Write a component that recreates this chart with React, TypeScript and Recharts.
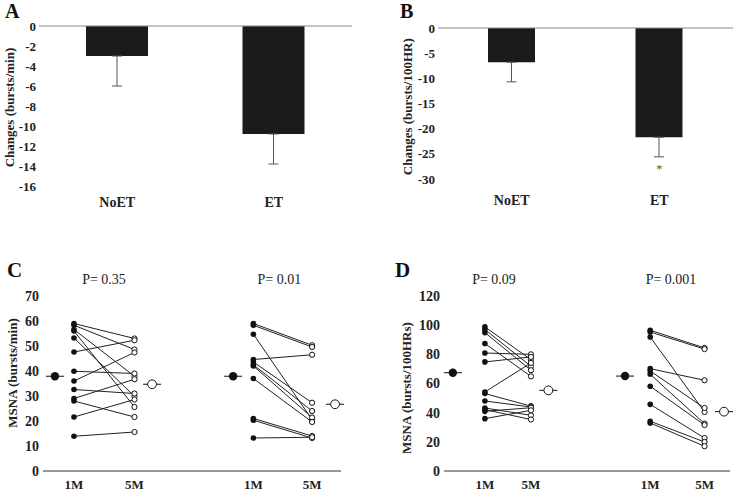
import React from 'react';
import {
  BarChart, Bar, XAxis, YAxis, ErrorBar, ReferenceLine, ReferenceDot,
  ScatterChart, Scatter,
} from 'recharts';

const serif = '"Liberation Serif", "Times New Roman", serif';

// A / B: change from 1 to 5 months
const groups = ['NoET', 'ET'];
const perMinChange = [-3.0, -10.8];
const perMinSE = [3.0, 3.0];
const perMinMarks = ['', ''];
const per100Change = [-6.8, -21.7];
const per100SE = [3.9, 3.9];
const per100Marks = ['', '*'];

// C / D: individual MSNA values, paired 1M -> 5M
const timepoints = ['1M', '5M'];
const minNoET1M = [59.0, 58.3, 56.6, 56.0, 53.2, 47.6, 39.9, 36.0, 32.6, 29.0, 28.0, 21.6, 13.9];
const minNoET5M = [53.0, 48.6, 37.9, 25.6, 29.9, 52.3, 39.0, 47.4, 31.0, 36.7, 21.6, 28.6, 15.6];
const minET1M = [59.0, 58.3, 54.7, 44.6, 43.6, 42.5, 42.0, 37.0, 21.0, 20.3, 13.2];
const minET5M = [50.3, 49.6, 20.5, 46.5, 27.3, 24.0, 21.4, 19.6, 14.0, 13.2, 13.5];
const minMean1M = [37.9, 37.9];
const minMean5M = [34.7, 26.7];
const minPValues = ['P= 0.35', 'P= 0.01'];

const hrNoET1M = [98.8, 97.0, 94.9, 87.4, 80.9, 74.8, 54.2, 53.1, 48.0, 43.2, 42.1, 40.9, 35.9];
const hrNoET5M = [76.4, 71.8, 69.1, 64.9, 80.0, 78.2, 74.1, 44.5, 43.9, 38.2, 35.3, 43.4, 41.6];
const hrET1M = [96.5, 95.3, 91.9, 70.2, 68.6, 66.3, 58.1, 45.7, 34.1, 32.9];
const hrET5M = [84.4, 83.6, 40.5, 62.2, 43.2, 32.5, 31.5, 22.6, 19.9, 17.0];
const hrMean1M = [67.4, 65.1];
const hrMean5M = [55.3, 40.7];
const hrPValues = ['P= 0.09', 'P= 0.001'];

const tickFont = { fontSize: 13, fontWeight: 700, fontFamily: serif, fill: '#222' };

function ChangePanel({ left, width, height, mTop, mBottom, axisW, mRight, barSize, values, errs, marks,
  domain, ticks, xMargin }: any) {
  const data = groups.map((g, i) => ({ group: g, value: values[i], err: [errs[i], 0] }));
  return (
    <div style={{ position: 'absolute', left, top: 0 }}>
      <BarChart width={width} height={height} data={data}
        margin={{ top: mTop, right: mRight, left: 0, bottom: mBottom }} barCategoryGap={0}>
        <XAxis dataKey="group" axisLine={false} tickLine={false} height={30} tickMargin={xMargin}
          tick={{ ...tickFont, fontSize: 14 }} />
        <YAxis type="number" domain={domain} ticks={ticks} interval={0} width={axisW} axisLine={false}
          tickLine={false} tickSize={0} tickMargin={3} tick={tickFont} />
        <ReferenceLine y={0} stroke="#888" strokeWidth={1.2} />
        <Bar dataKey="value" fill="#1b1b1b" barSize={barSize} isAnimationActive={false}>
          <ErrorBar dataKey="err" direction="y" width={5} stroke="#555" strokeWidth={1} />
        </Bar>
        {marks.map((m: string, i: number) => m ? (
          <ReferenceDot key={i} x={groups[i]} y={values[i] - errs[i] - 2.2} r={0} stroke="none" fill="none"
            label={{ value: m, position: 'center', fill: '#555', fontSize: 13, fontFamily: serif }} />
        ) : null)}
      </BarChart>
    </div>
  );
}

function subjectDot(props: any) {
  const { cx, cy, payload } = props;
  if (payload.t === 0) return <circle cx={cx} cy={cy} r={2.8} fill="#111" />;
  return <circle cx={cx} cy={cy} r={2.6} fill="#fff" stroke="#111" strokeWidth={1} />;
}

function meanDot(props: any) {
  const { cx, cy, payload } = props;
  return (
    <g>
      <line x1={cx - 9} x2={cx + 9} y1={cy} y2={cy} stroke="#111" strokeWidth={1} />
      {payload.t === 0
        ? <circle cx={cx} cy={cy} r={4.2} fill="#111" />
        : <circle cx={cx} cy={cy} r={4.4} fill="#fff" stroke="#111" strokeWidth={1} />}
    </g>
  );
}

function PairPanel({ left, width, axisW, mRight, yMax, step, slots, pre, post, mean1, mean5 }: any) {
  const yTicks: number[] = [];
  for (let v = 0; v <= yMax; v += step) yTicks.push(v);
  const xTicks = [slots[0][1], slots[0][2], slots[1][1], slots[1][2]];
  const pairs: any[] = [];
  pre.forEach((arr: number[], g: number) => {
    arr.forEach((v, i) => {
      pairs.push([{ x: slots[g][1], y: v, t: 0 }, { x: slots[g][2], y: post[g][i], t: 1 }]);
    });
  });
  const means = [0, 1].flatMap((g) => [
    { x: slots[g][0], y: mean1[g], t: 0 },
    { x: slots[g][3], y: mean5[g], t: 1 },
  ]);
  return (
    <div style={{ position: 'absolute', left, top: 250 }}>
      <ScatterChart width={width} height={242} margin={{ top: 46, right: mRight, left: 0, bottom: 0 }}>
        <XAxis type="number" dataKey="x" domain={[0, 100]} ticks={xTicks} interval={0} height={21}
          axisLine={{ stroke: '#333', strokeWidth: 1.2 }} tickLine={false} tickMargin={3}
          tick={tickFont} tickFormatter={(v: number) => timepoints[xTicks.indexOf(v) % 2]} />
        <YAxis type="number" dataKey="y" domain={[0, yMax]} ticks={yTicks} interval={0} width={axisW}
          axisLine={false} tickLine={false} tickSize={0} tickMargin={4} tick={{ ...tickFont, fontSize: 14 }} />
        {pairs.map((p, i) => (
          <Scatter key={i} data={p} line={{ stroke: '#222', strokeWidth: 1 }} shape={subjectDot}
            isAnimationActive={false} />
        ))}
        <Scatter data={means} shape={meanDot} isAnimationActive={false} />
      </ScatterChart>
    </div>
  );
}

const letter = { fontFamily: serif, fontWeight: 700, fill: '#111' };
const ptext = { fontFamily: serif, fontSize: 14, fill: '#222', textAnchor: 'middle' as const };

function VTitle({ x, y, children }: any) {
  return (
    <text x={x} y={y} transform={`rotate(-90, ${x}, ${y})`} textAnchor="middle" dominantBaseline="central"
      fontFamily={serif} fontWeight={700} fontSize={13} fill="#222">{children}</text>
  );
}

export default function App() {
  return (
    <div style={{ position: 'absolute', left: 0, top: 0, width: 735, height: 492, background: '#fff' }}>
      <ChangePanel left={0} width={370} height={230} mTop={26} mBottom={14} axisW={39} mRight={18} barSize={62}
        values={perMinChange} errs={perMinSE} marks={perMinMarks} domain={[-16, 0]}
        ticks={[0, -2, -4, -6, -8, -10, -12, -14, -16]} xMargin={5} />
      <ChangePanel left={370} width={365} height={230} mTop={28} mBottom={21} axisW={68} mRight={2} barSize={47}
        values={per100Change} errs={per100SE} marks={per100Marks} domain={[-30, 0]}
        ticks={[0, -5, -10, -15, -20, -25, -30]} xMargin={10} />
      <PairPanel left={0} width={370} axisW={43} mRight={29} yMax={70} step={10}
        slots={[[4.0, 10.4, 30.7, 36.6], [63.8, 70.6, 90.3, 98.0]]}
        pre={[minNoET1M, minET1M]} post={[minNoET5M, minET5M]} mean1={minMean1M} mean5={minMean5M} />
      <PairPanel left={370} width={365} axisW={74} mRight={5} yMax={120} step={20}
        slots={[[3.1, 14.3, 30.4, 36.5], [63.3, 72.1, 91.1, 97.9]]}
        pre={[hrNoET1M, hrET1M]} post={[hrNoET5M, hrET5M]} mean1={hrMean1M} mean5={hrMean5M} />
      <svg width={735} height={492} style={{ position: 'absolute', left: 0, top: 0, pointerEvents: 'none' }}>
        <text x={5} y={17.5} fontSize={20} {...letter}>A</text>
        <text x={400} y={18.3} fontSize={20} {...letter}>B</text>
        <text x={7} y={277} fontSize={21} {...letter}>C</text>
        <text x={395} y={277} fontSize={21} {...letter}>D</text>
        <VTitle x={9.5} y={107.5}>Changes (bursts/min)</VTitle>
        <VTitle x={408} y={106.7}>Changes (bursts/100HR)</VTitle>
        <VTitle x={12.5} y={373}>MSNA (bursts/min)</VTitle>
        <VTitle x={406.7} y={388}>MSNA (bursts/100HRs)</VTitle>
        <text x={104} y={284.3} {...ptext}>{minPValues[0]}</text>
        <text x={279.3} y={284.3} {...ptext}>{minPValues[1]}</text>
        <text x={494} y={284.3} {...ptext}>{hrPValues[0]}</text>
        <text x={671} y={284.3} {...ptext}>{hrPValues[1]}</text>
      </svg>
    </div>
  );
}
